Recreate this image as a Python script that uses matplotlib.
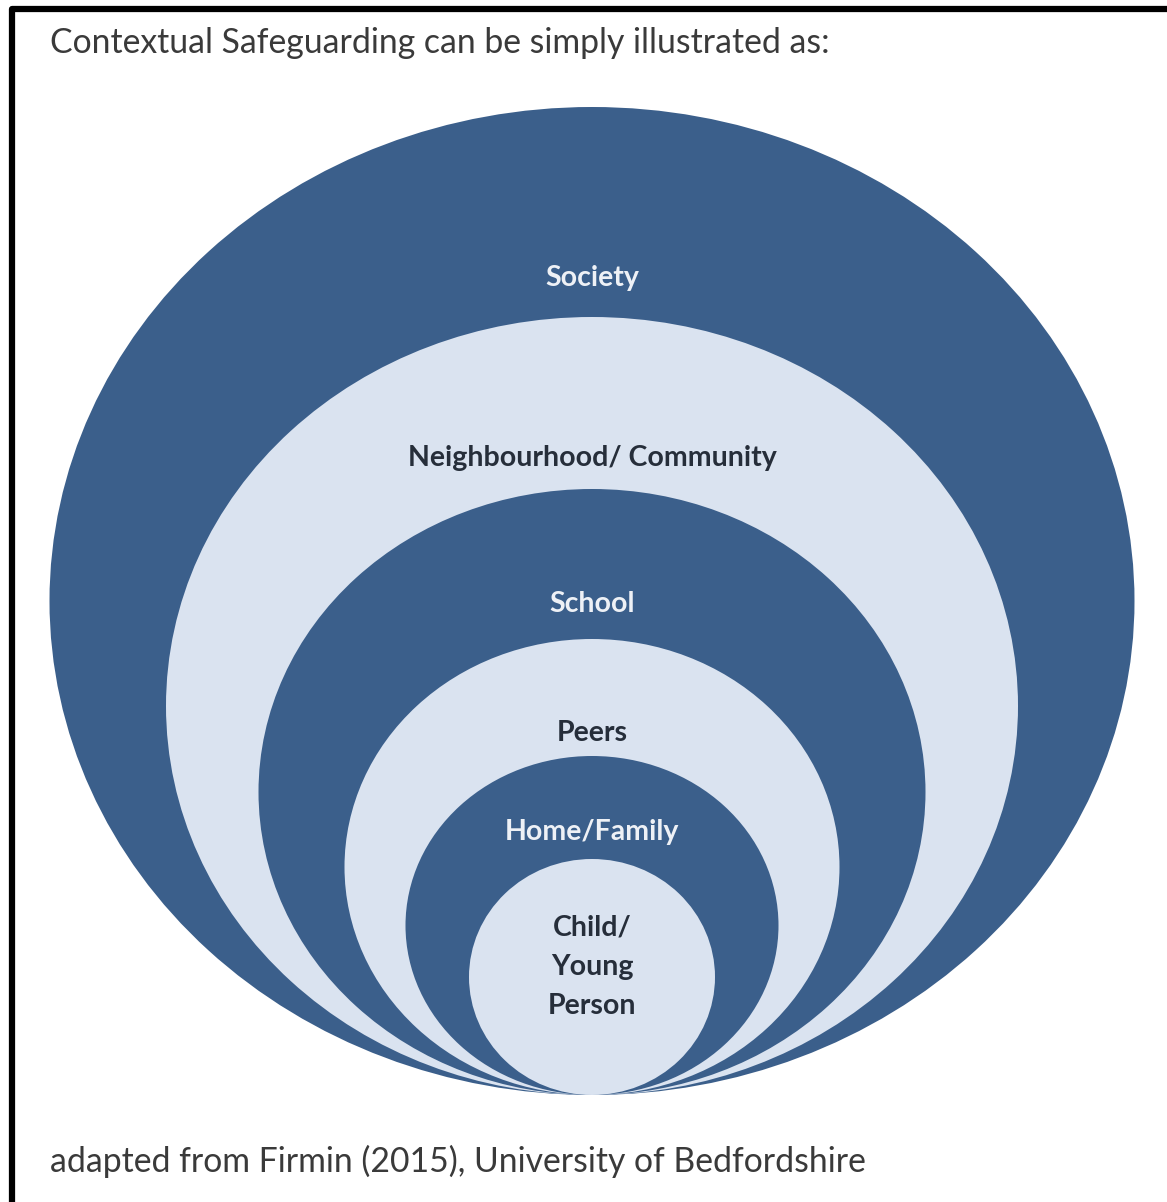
import matplotlib.pyplot as plt
from matplotlib.patches import Ellipse

# nested contexts, outer to inner (pixel units of the original picture)
labels = ["Society", "Neighbourhood/ Community", "School", "Peers", "Home/Family", "Child/\nYoung\nPerson"]
widths = [1085, 852, 667, 495, 373, 246]
heights = [988, 778, 606, 456, 339, 236]
label_y = [278, 458, 604, 733, 832, 967]
bottom = 1095
cx = 592

dark = "#3b5f8b"
light = "#dae3f0"
fills = [dark, light, dark, light, dark, light]
text_cols = ["#eef1f6", "#262e3a", "#eef1f6", "#262e3a", "#eef1f6", "#262e3a"]

W, H = 1167, 1202
fig = plt.figure(figsize=(W / 100, H / 100), dpi=100)
ax = fig.add_axes([0, 0, 1, 1])
ax.set_xlim(0, W)
ax.set_ylim(H, 0)
ax.axis("off")

for w, h, c in zip(widths, heights, fills):
    ax.add_patch(Ellipse((cx, bottom - h / 2), w, h, facecolor=c, edgecolor="none"))

for lab, y, tc in zip(labels, label_y, text_cols):
    ax.text(cx, y, lab, ha="center", va="center", fontsize=20.5, fontweight="bold",
            color=tc, family=["Lato", "DejaVu Sans"], linespacing=1.62)

ax.text(50, 43, "Contextual Safeguarding can be simply illustrated as:", ha="left", va="center",
        fontsize=24.3, color="#3a3a3a", family=["Lato", "DejaVu Sans"])
ax.text(50, 1161, "adapted from Firmin (2015), University of Bedfordshire", ha="left", va="center",
        fontsize=24.3, color="#3a3a3a", family=["Lato", "DejaVu Sans"])

# frame (only top and left edges visible)
ax.plot([11.5, 11.5, 1250], [1250, 8.5, 8.5], color="black", lw=4.5, solid_joinstyle="round")

fig.savefig("out.png", dpi=100)
